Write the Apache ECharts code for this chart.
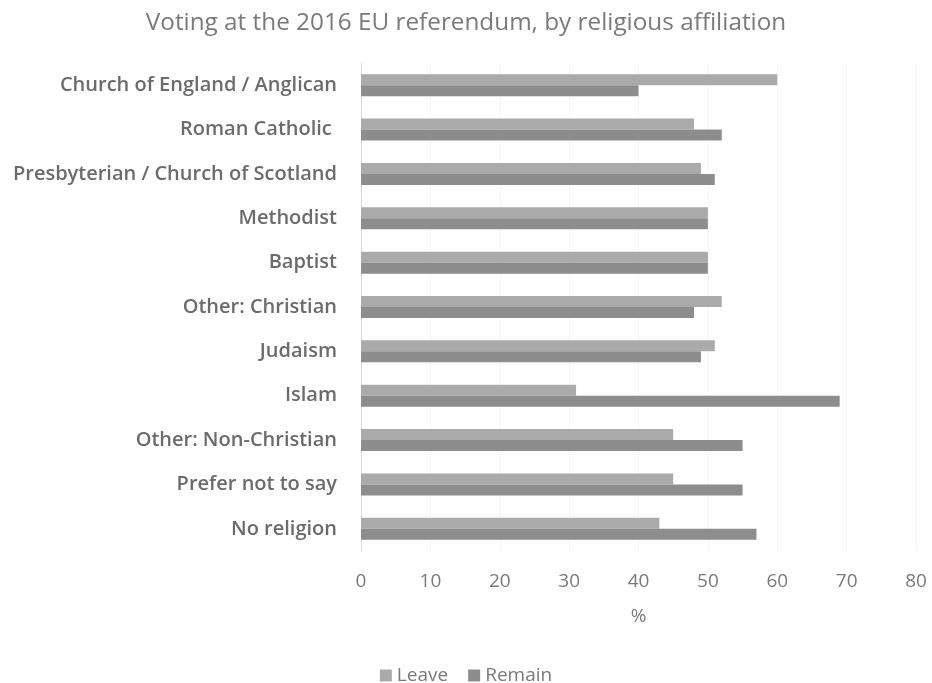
<!DOCTYPE html>
<html>
<head>
<meta charset="utf-8">
<script src="https://cdn.jsdelivr.net/npm/echarts@6/dist/echarts.min.js"></script>
<style>
  html, body { margin: 0; padding: 0; background: #ffffff; }
  #chart { width: 932px; height: 683px; }
</style>
</head>
<body>
<div id="chart"></div>
<script>
// Religious affiliation groups, listed top to bottom
const categories = [
  'Church of England / Anglican',
  'Roman Catholic ',
  'Presbyterian / Church of Scotland',
  'Methodist',
  'Baptist',
  'Other: Christian',
  'Judaism',
  'Islam',
  'Other: Non-Christian',
  'Prefer not to say',
  'No religion'
];

// Share of each group voting Leave / Remain (%)
const leaveValues  = [60, 48, 49, 50, 50, 52, 51, 31, 45, 45, 43];
const remainValues = [40, 52, 51, 50, 50, 48, 49, 69, 55, 55, 57];

// Value axis ticks
const axisMin = 0;
const axisMax = 80;
const axisStep = 10;

const chart = echarts.init(document.getElementById('chart'), null, { renderer: 'canvas' });

const textFont = '"Open Sans", "Liberation Sans", sans-serif';

chart.setOption({
  animation: false,
  backgroundColor: '#ffffff',
  title: {
    text: 'Voting at the 2016 EU referendum, by religious affiliation',
    left: 'center',
    top: 6,
    textStyle: {
      fontFamily: textFont,
      fontSize: 24.3,
      fontWeight: 'normal',
      color: '#7a7a7a'
    }
  },
  legend: {
    top: 661,
    left: 'center',
    icon: 'rect',
    itemWidth: 12,
    itemHeight: 12,
    itemGap: 20,
    textStyle: {
      fontFamily: textFont,
      fontSize: 19,
      color: '#7a7a7a'
    },
    data: ['Leave', 'Remain']
  },
  grid: {
    left: 361,
    right: 16,
    top: 63,
    height: 488,
    containLabel: false
  },
  xAxis: {
    type: 'value',
    min: axisMin,
    max: axisMax,
    interval: axisStep,
    name: '%',
    nameLocation: 'middle',
    nameGap: 56,
    nameTextStyle: {
      fontFamily: textFont,
      fontSize: 19,
      color: '#7a7a7a'
    },
    axisLine: { show: false },
    axisTick: { show: false },
    splitLine: { show: true, lineStyle: { color: '#f6f6f6', width: 1 } },
    axisLabel: {
      margin: 21,
      fontFamily: textFont,
      fontSize: 19,
      color: '#7a7a7a'
    }
  },
  yAxis: {
    type: 'category',
    inverse: true,
    data: categories,
    axisLine: { show: true, lineStyle: { color: '#d9d9d9', width: 1 } },
    axisTick: { show: false },
    axisLabel: {
      margin: 24,
      fontFamily: textFont,
      fontSize: 20,
      fontWeight: 600,
      color: '#6b6b6b'
    }
  },
  series: [
    {
      name: 'Leave',
      type: 'bar',
      data: leaveValues,
      barWidth: 11,
      barGap: '0%',
      itemStyle: { color: '#aaaaaa' }
    },
    {
      name: 'Remain',
      type: 'bar',
      data: remainValues,
      barWidth: 11,
      barGap: '0%',
      itemStyle: { color: '#8d8d8d' }
    }
  ]
});
</script>
</body>
</html>
